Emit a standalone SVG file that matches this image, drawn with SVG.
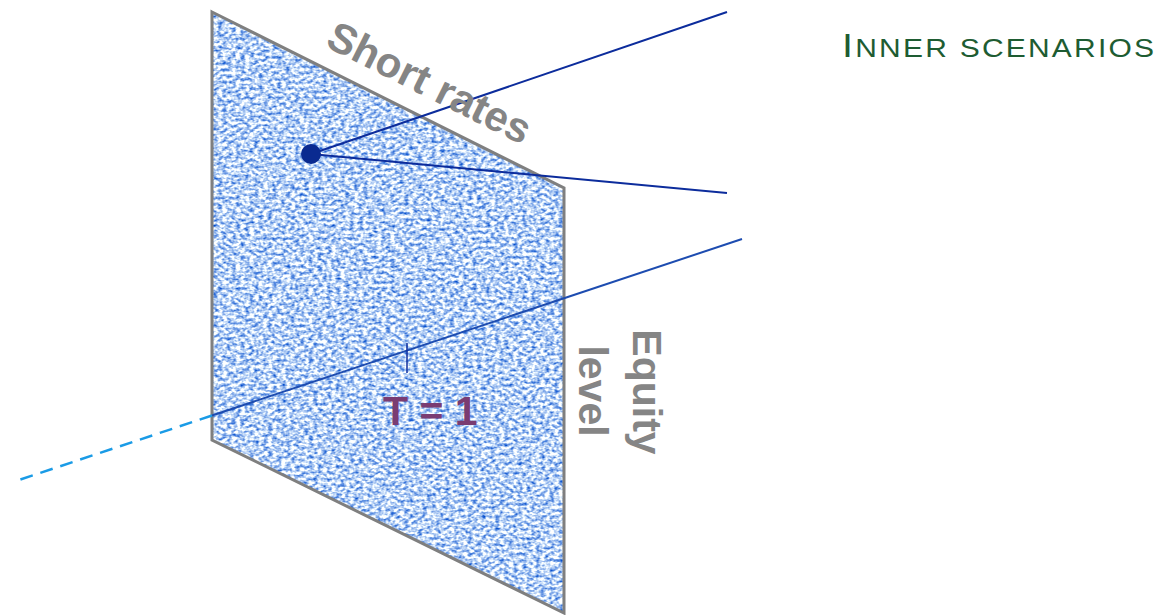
<svg xmlns="http://www.w3.org/2000/svg" width="1165" height="615" viewBox="0 0 1165 615">
<defs>
<style>
.lbl{font-family:"Liberation Sans",Arial,sans-serif;font-weight:bold;fill:#858585}
.navy{stroke:#0c2c9c;stroke-width:2;fill:none}
</style>
<filter id="tex" x="0" y="0" width="1" height="1" color-interpolation-filters="sRGB">
<feTurbulence type="fractalNoise" baseFrequency="0.22 0.32" numOctaves="2" seed="5" result="n"/>
<feColorMatrix in="n" type="matrix" values="-1.833 0 0 0 1.633  -1.333 0 0 0 1.483  -0.4 0 0 0 1.16  0 0 0 0 1"/>
</filter>
<clipPath id="pclip"><polygon points="212,12 564,188 564,613 212,440"/></clipPath>
</defs>
<g id="plane">
<g clip-path="url(#pclip)"><rect x="212" y="12" width="352" height="601" fill="#c8dcf4" filter="url(#tex)"/></g>
<polygon points="212,12 564,188 564,613 212,440" fill="none" stroke="#7f7f7f" stroke-width="3" stroke-linejoin="miter"/>
</g>
<g id="connectors">
<line class="navy" x1="311" y1="154" x2="727" y2="12"/>
<line class="navy" x1="311" y1="154" x2="727" y2="193"/>
<line x1="742" y1="239" x2="212" y2="415.5" stroke="#1d4cb0" stroke-width="2"/>
<line x1="212" y1="415.5" x2="16" y2="481" stroke="#1a9be6" stroke-width="2.5" stroke-dasharray="13,8"/>
<line x1="407" y1="343" x2="407" y2="373" stroke="#0c2c9c" stroke-width="1.5"/>
</g>
<g id="point"><circle cx="311" cy="154" r="10" fill="#0a2a90"/></g>
<g id="short-rates"><text class="lbl" font-size="42" transform="translate(324,46) rotate(26.57)">Short rates</text></g>
<g id="equity-level">
<text class="lbl" font-size="41" text-anchor="middle" transform="translate(633,392) rotate(90)">Equity</text>
<text class="lbl" font-size="41" text-anchor="middle" transform="translate(579,391) rotate(90)">level</text>
</g>
<g id="t1"><text font-family="Liberation Sans,Arial,sans-serif" font-weight="bold" font-size="41" fill="#7a3c72" x="383" y="425">T = 1</text></g>
<g id="title"><text font-family="Liberation Sans,Arial,sans-serif" fill="#1e5c32" letter-spacing="1.85" transform="translate(842,57) scale(1.2,1)"><tspan font-size="33">I</tspan><tspan font-size="25">NNER SCENARIOS</tspan></text></g>
</svg>
